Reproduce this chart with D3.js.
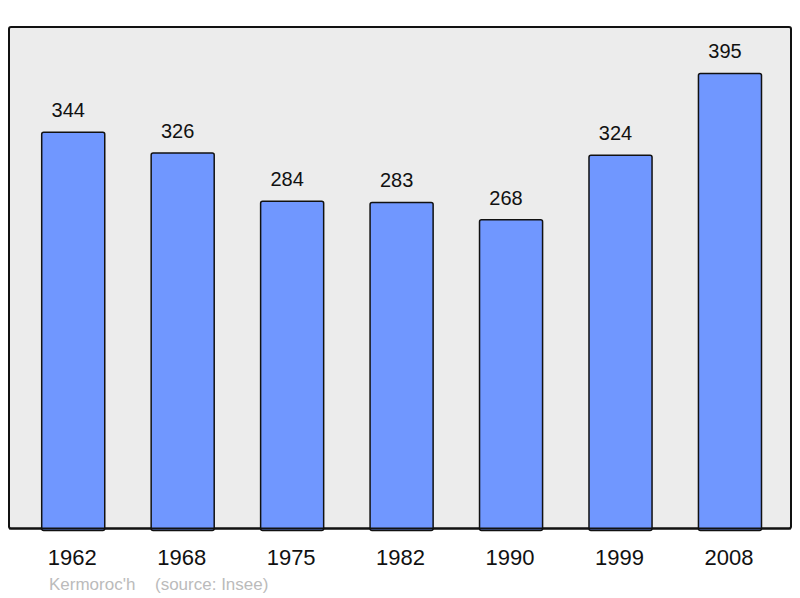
<!DOCTYPE html>
<html>
<head>
<meta charset="utf-8">
<script src="https://cdn.jsdelivr.net/npm/d3@7"></script>
<style>
  html, body { margin: 0; padding: 0; background: #fff; }
  svg { display: block; font-family: "Liberation Sans", Arial, sans-serif; }
</style>
</head>
<body>
<script>
// population data
const years  = ["1962", "1968", "1975", "1982", "1990", "1999", "2008"];
const values = [344, 326, 284, 283, 268, 324, 395];
const commune = "Kermoroc'h";
const source  = "(source: Insee)";

const width = 800, height = 598;
const frame = { left: 9, top: 27, right: 791, bottom: 528.5 };

const svg = d3.select("body").append("svg")
  .attr("width", width)
  .attr("height", height);

// plot frame
svg.append("rect")
  .attr("x", frame.left)
  .attr("y", frame.top)
  .attr("width", frame.right - frame.left)
  .attr("height", frame.bottom - frame.top)
  .attr("rx", 2)
  .attr("fill", "#ececec")
  .attr("stroke", "#111")
  .attr("stroke-width", 2);

const x = d3.scaleBand()
  .domain(years)
  .range([41.7, 761.5])
  .paddingInner(0.424)
  .paddingOuter(0);

// y: 1.152 px per inhabitant, baseline at frame bottom
const y = d3.scaleLinear()
  .domain([0, (frame.bottom - frame.top) / 1.152])
  .range([frame.bottom, frame.top]);

const data = years.map((yr, i) => ({ year: yr, value: values[i] }));

svg.append("g").selectAll("rect")
  .data(data)
  .enter().append("rect")
  .attr("x", d => x(d.year))
  .attr("y", d => y(d.value))
  .attr("width", x.bandwidth())
  .attr("height", d => frame.bottom - y(d.value) + 2)
  .attr("rx", 2)
  .attr("fill", "#7097ff")
  .attr("stroke", "#111")
  .attr("stroke-width", 1.5);

// redraw bottom border over bars
svg.append("line")
  .attr("x1", frame.left).attr("x2", frame.right)
  .attr("y1", frame.bottom).attr("y2", frame.bottom)
  .attr("stroke", "#111")
  .attr("stroke-width", 2);

// value labels (sit a little left of the bar centre in the original)
svg.append("g").selectAll("text")
  .data(data)
  .enter().append("text")
  .attr("x", d => x(d.year) + x.bandwidth() / 2 - 5)
  .attr("y", d => y(d.value) - 15)
  .attr("text-anchor", "middle")
  .style("font-size", "20px")
  .attr("fill", "#111")
  .text(d => d.value);

// year labels
svg.append("g").selectAll("text")
  .data(data)
  .enter().append("text")
  .attr("x", d => x(d.year) + x.bandwidth() / 2 - 1)
  .attr("y", 565)
  .attr("text-anchor", "middle")
  .style("font-size", "22px")
  .attr("fill", "#111")
  .text(d => d.year);

// footer
svg.append("text")
  .attr("x", 49)
  .attr("y", 590)
  .style("font-size", "17px")
  .attr("fill", "#bbbbbb")
  .text(commune);

svg.append("text")
  .attr("x", 155)
  .attr("y", 590)
  .style("font-size", "17px")
  .attr("fill", "#bbbbbb")
  .text(source);
</script>
</body>
</html>
